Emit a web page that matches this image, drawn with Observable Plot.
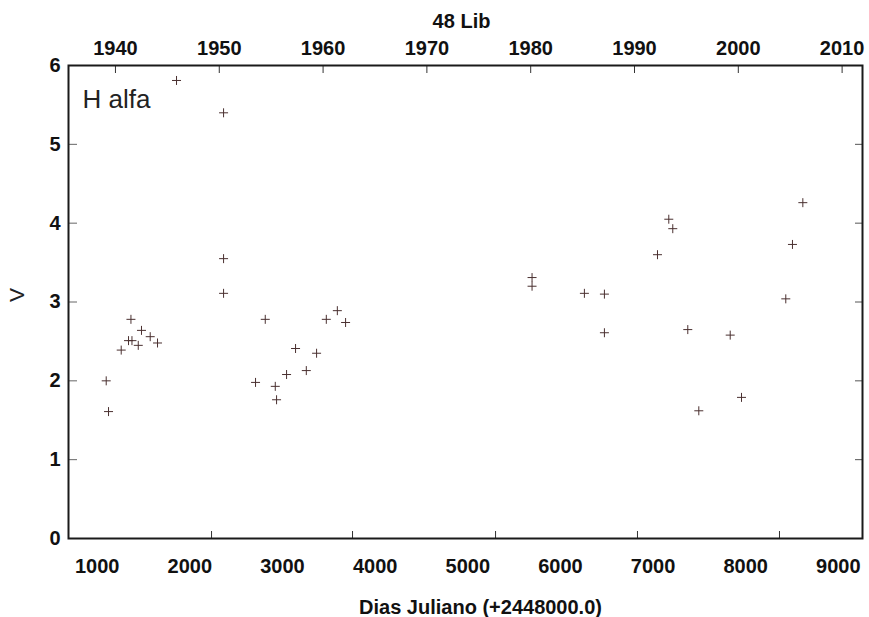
<!DOCTYPE html>
<html>
<head>
<meta charset="utf-8">
<script src="https://cdn.jsdelivr.net/npm/d3@7"></script>
<script src="https://cdn.jsdelivr.net/npm/@observablehq/plot@0.6"></script>
<style>
  html, body { margin: 0; padding: 0; background: #ffffff; }
  #chart svg { display: block; }
</style>
</head>
<body>
<div id="chart"></div>
<script>
// Julian day offsets (+2448000.0) of the H-alpha observations
const julianDays = [1097, 1122, 1259, 1338, 1375, 1364, 1443, 1478, 1572, 1651,
  1856, 2364, 2364, 2364,
  2709, 2814, 2922, 2936, 3044, 3141, 3257, 3368, 3473, 3592, 3681,
  5694, 5694, 6259, 6475, 6475,
  7048, 7170, 7213, 7375, 7494, 7833, 7955, 8433, 8505, 8617];
// V values
const vValues = [2.00, 1.61, 2.39, 2.51, 2.51, 2.78, 2.45, 2.64, 2.56, 2.48,
  5.81, 5.40, 3.55, 3.11,
  1.98, 2.78, 1.93, 1.76, 2.08, 2.41, 2.13, 2.35, 2.78, 2.89, 2.74,
  3.31, 3.20, 3.11, 3.10, 2.61,
  3.60, 4.05, 3.93, 2.65, 1.62, 2.58, 1.79, 3.04, 3.73, 4.26];

// Axis tick labels
const bottomLabels = [1000, 2000, 3000, 4000, 5000, 6000, 7000, 8000, 9000];
const bottomTickMarks = [2234, 3756, 5300, 6832, 8365];
const yearLabels = [1940, 1950, 1960, 1970, 1980, 1990, 2000, 2010];
const yearCalibYears = [1940, 2010];
const yearCalibDays = [1197, 9041];
const vTicks = [0, 1, 2, 3, 4, 5, 6];
const vInnerTicks = [1, 2, 3, 4, 5];

const xDomain = [690, 9261];
const yDomain = [0, 6];

const data = julianDays.map((d, i) => ({jd: d, v: vValues[i]}));
const yearToDay = d3.scaleLinear(yearCalibYears, yearCalibDays);

const crossSymbol = {
  draw(context, size) {
    const r = Math.sqrt(size / Math.PI);
    context.moveTo(-r, 0); context.lineTo(r, 0);
    context.moveTo(0, -r); context.lineTo(0, r);
  }
};

const font = "'Liberation Sans', Arial, Helvetica, sans-serif";

const chart = Plot.plot({
  width: 869,
  height: 617,
  marginLeft: 68,
  marginRight: 7,
  marginTop: 65,
  marginBottom: 79,
  style: {fontFamily: font, background: "#ffffff", overflow: "visible", color: "#111"},
  x: {domain: xDomain, axis: null},
  y: {domain: yDomain, axis: null},
  marks: [
    // bottom tick labels
    Plot.axisX({anchor: "bottom", ticks: bottomLabels, tickSize: 0, tickPadding: 20,
      fontSize: 20, fontWeight: "bold", tickFormat: d => String(d), label: null}),
    // bottom inward ticks
    Plot.axisX({anchor: "bottom", ticks: bottomTickMarks, tickSize: 7, dy: -7, text: null,
      stroke: "#333", label: null}),
    // top year labels
    Plot.axisX({anchor: "top", ticks: yearLabels.map(y => yearToDay(y)), tickSize: 0, tickPadding: 11,
      fontSize: 20, fontWeight: "bold", tickFormat: (d, i) => String(yearLabels[i]), label: null}),
    // top inward ticks
    Plot.axisX({anchor: "top", ticks: yearLabels.map(y => yearToDay(y)), tickSize: 7, dy: 7, text: null,
      stroke: "#333", label: null}),
    // left labels
    Plot.axisY({anchor: "left", ticks: vTicks, tickSize: 0, tickPadding: 8,
      fontSize: 20, fontWeight: "bold", tickFormat: d => String(d), label: null}),
    // left inward ticks
    Plot.axisY({anchor: "left", ticks: vInnerTicks, tickSize: 9, dx: 9, text: null,
      stroke: "#666", label: null}),
    // right inward ticks
    Plot.axisY({anchor: "right", ticks: vInnerTicks, tickSize: 8, dx: -8, text: null,
      stroke: "#555", label: null}),
    Plot.frame({stroke: "#1a1a1a", strokeWidth: 2}),
    Plot.dot(data, {x: "jd", y: "v", symbol: crossSymbol, r: 4.5, stroke: "#4a3030",
      strokeWidth: 1, fill: "none"}),
    Plot.text(["H alfa"], {frameAnchor: "top-left", dx: 14, dy: 24, textAnchor: "start",
      lineAnchor: "top", fontSize: 26, fill: "#222"}),
    Plot.text(["48 Lib"], {frameAnchor: "top", dx: -4, dy: -38, lineAnchor: "bottom",
      fontSize: 20, fontWeight: "bold", fill: "#111"}),
    Plot.text(["Dias Juliano (+2448000.0)"], {frameAnchor: "bottom", dx: 15, dy: 61, lineAnchor: "top",
      fontSize: 20, fontWeight: "bold", fill: "#111"}),
    Plot.text(["V"], {frameAnchor: "left", dx: -51, rotate: -90, fontSize: 21, fill: "#222"})
  ]
});

document.getElementById("chart").appendChild(chart);
</script>
</body>
</html>
